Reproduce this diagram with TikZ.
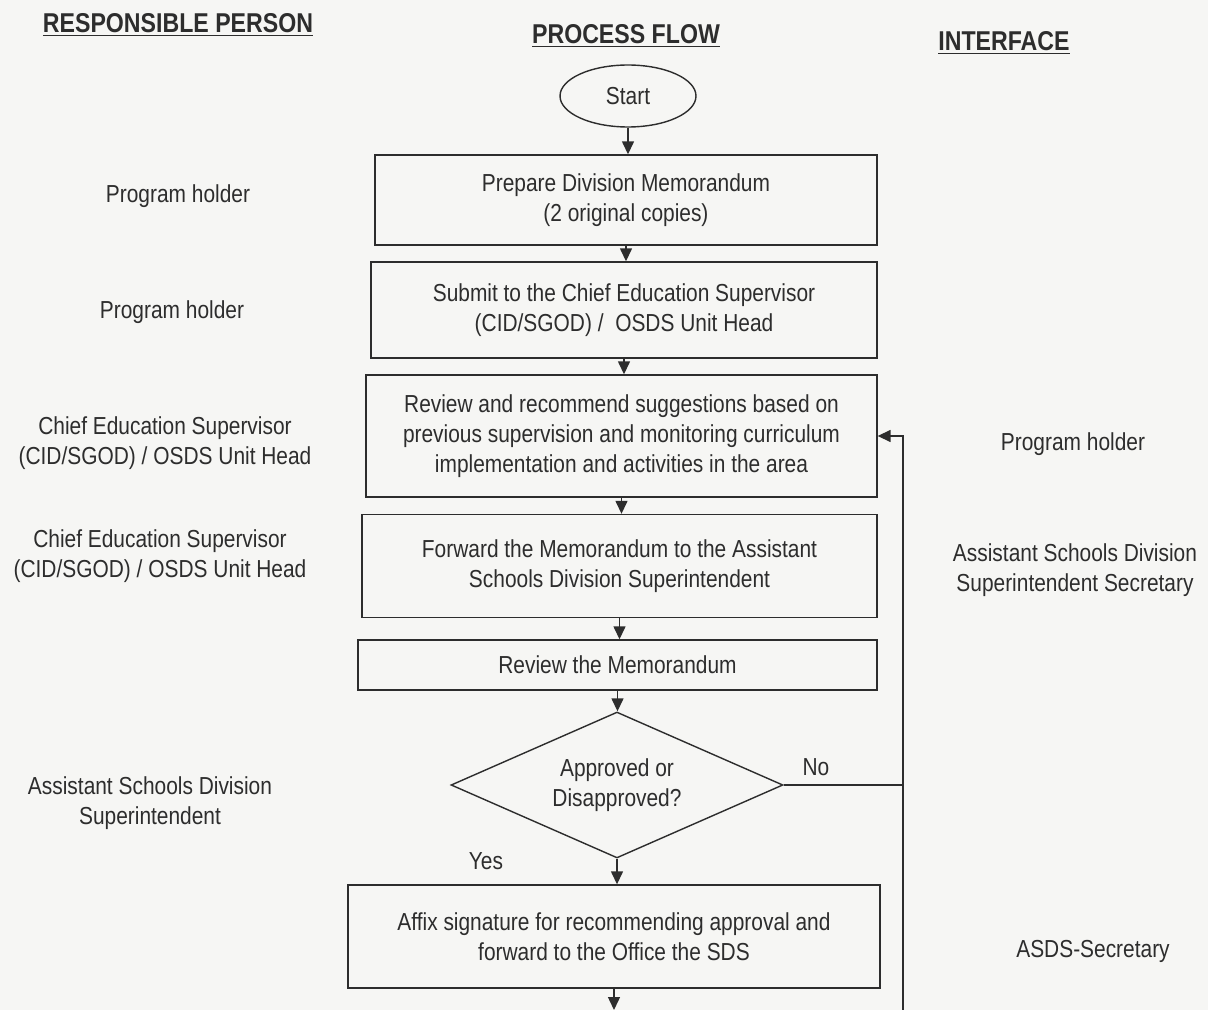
\documentclass[tikz,border=0pt]{standalone}
\usepackage{fontspec}
\setmainfont[FakeStretch=0.85]{Liberation Sans}
\usetikzlibrary{shapes.geometric,% for the diamond
                arrows.meta}
\definecolor{paper}{RGB}{246,246,244}
\definecolor{ink}{RGB}{45,45,45}

\begin{document}
\begin{tikzpicture}[x=0.02cm,y=-0.02cm,
  font=\fontsize{14}{17}\selectfont, text=ink,
  process/.style={
    rectangle,
    draw=ink,
    thick,
    align=center,
    inner sep=0pt
  },
  decision/.style={
    diamond,draw=ink,thick,align=center,
    shape aspect=2.27,inner sep=0pt,
    minimum width=6.64cm,minimum height=2.92cm
  },
  terminal/.style={
    ellipse,draw=ink,thick,
    minimum width=2.72cm,minimum height=1.24cm
  },
  heading/.style={font=\fontsize{15.5}{18}\selectfont\bfseries},
  person/.style={align=center},
  flow/.style={-{Triangle[length=2.6mm,width=2.4mm]},draw=ink,thick}
]
\fill[paper] (0,0) rectangle (1208,1010);
\useasboundingbox (0,0) rectangle (1208,1010);

% Column headings
\node (hperson)    [heading] at (178,25) {\underline{RESPONSIBLE PERSON}};
\node (hflow)      [heading] at (626,36) {\underline{PROCESS FLOW}};
\node (hinterface) [heading] at (1004,43) {\underline{INTERFACE}};

% Process flow
\node (start)   [terminal] at (628,96) {Start};
\node (prepare) [process, minimum width=10.04cm, minimum height=1.8cm]
  at (626,200) {Prepare Division Memorandum\\(2 original copies)};
\node (submit)  [process, minimum width=10.12cm, minimum height=1.92cm]
  at (624,310) {Submit to the Chief Education Supervisor\\(CID/SGOD) /\ \ OSDS Unit Head};
\node (review)  [process, minimum width=10.22cm, minimum height=2.44cm]
  at (621.5,436) {Review and recommend suggestions based on\\previous supervision and monitoring curriculum\\implementation and activities in the area};
\node (forward) [process, minimum width=10.3cm, minimum height=2.06cm]
  at (619.5,566) {Forward the Memorandum to the Assistant\\Schools Division Superintendent};
\node (memo)    [process, minimum width=10.38cm, minimum height=1.0cm]
  at (617.5,665) {Review the Memorandum};
\node (approve) [decision] at (617,785) {Approved or\\Disapproved?};
\node (affix)   [process, minimum width=10.64cm, minimum height=2.06cm]
  at (614,936.5) {Affix signature for recommending approval and\\forward to the Office the SDS};
\coordinate (next) at (614,1010);
\coordinate (loop) at (903,1010);

\node (yes) at (486,861) {Yes};
\node (no)  at (816,767) {No};

% Responsible person
\node (rp1) [person] at (178,196) {Program holder};
\node (rp2) [person] at (172,312) {Program holder};
\node (rp3) [person] at (165,443) {Chief Education Supervisor\\(CID/SGOD) / OSDS Unit Head};
\node (rp4) [person] at (160,556) {Chief Education Supervisor\\(CID/SGOD) / OSDS Unit Head};
\node (rp5) [person] at (150,803) {Assistant Schools Division\\Superintendent};

% Interface
\node (if1) [person] at (1073,444) {Program holder};
\node (if2) [person] at (1075,570) {Assistant Schools Division\\Superintendent Secretary};
\node (if3) [person] at (1093,951) {ASDS-Secretary};

% Connectors
\draw[flow] (start) -- (start |- prepare.north);
\draw[flow] (prepare) -- (prepare |- submit.north);
\draw[flow] (submit) -- (submit |- review.north);
\draw[flow] (review) -- (review |- forward.north);
\draw[flow] (forward) -- (forward |- memo.north);
\draw[flow] (memo) -- (memo |- approve.north);
\draw[flow] (approve) -- (approve |- affix.north);
\draw[flow] (affix) -- (next);
\draw[flow] (loop) |- (review.east);
\draw[draw=ink,thick] (approve.east) -- (approve.east -| loop);
\end{tikzpicture}
\end{document}
